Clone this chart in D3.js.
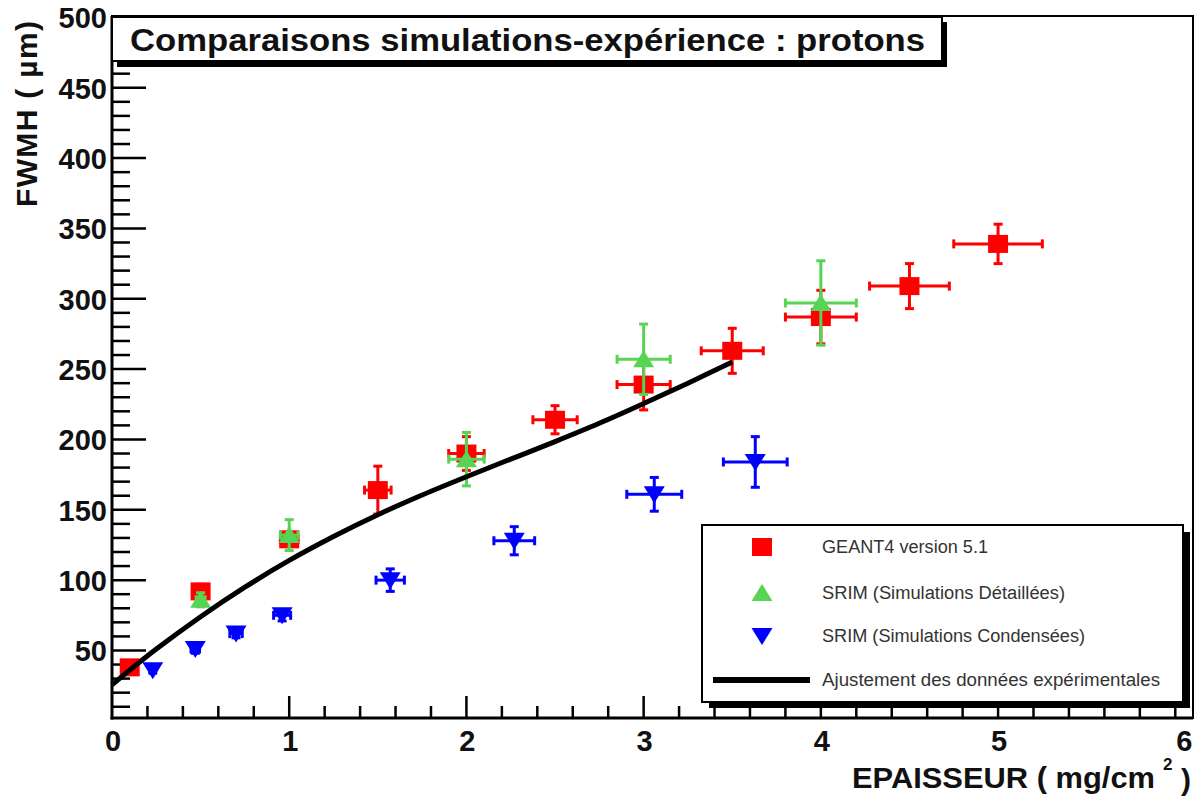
<!DOCTYPE html>
<html><head><meta charset="utf-8">
<script src="https://cdn.jsdelivr.net/npm/d3@7"></script>
<style>body{margin:0;background:#fff}</style>
</head><body><svg id="c" width="1199" height="798"></svg>
<script>
// ---- data ----
const geantX  = [0.1, 0.5, 1.0, 1.5, 2.0, 2.5, 3.0, 3.5, 4.0, 4.5, 5.0];
const geantY  = [38, 92, 129, 164, 190, 214, 239, 263, 287, 309, 339];
const geantEX = [0.005, 0.025, 0.05, 0.075, 0.1, 0.125, 0.15, 0.175, 0.2, 0.225, 0.25];
const geantEY = [3, 5, 5, 17, 12, 10, 18, 16, 19, 16, 14];

const detX  = [0.5, 1.0, 2.0, 3.0, 4.0];
const detY  = [86, 132, 186, 257, 297];
const detEX = [0.025, 0.05, 0.1, 0.15, 0.2];
const detEY = [5, 11, 19, 25, 30];

const condX  = [0.23, 0.47, 0.7, 0.96, 1.57, 2.27, 3.06, 3.63];
const condY  = [36, 51, 62, 75, 100, 128, 161, 184];
const condEX = [0.012, 0.024, 0.035, 0.048, 0.08, 0.115, 0.155, 0.18];
const condEY = [2, 3, 3, 4, 8, 10, 12, 18];

const fitX = [0, 0.1, 0.25, 0.5, 0.75, 1.0, 1.25, 1.5, 1.75, 2.0, 2.25, 2.5, 2.75, 3.0, 3.25, 3.5];
const fitY = [25.5, 36, 51, 74, 95, 114, 131, 146.5, 160.5, 173.5, 186, 198.5, 211.5, 225.5, 240, 255];

const xTickLabels = ["0", "1", "2", "3", "4", "5", "6"];
const yTickLabels = ["50", "100", "150", "200", "250", "300", "350", "400", "450", "500"];

const legendLabels = ["GEANT4 version 5.1", "SRIM (Simulations Détaillées)",
                      "SRIM (Simulations Condensées)", "Ajustement  des données expérimentales"];
const titleText = "Comparaisons simulations-expérience : protons";

// ---- layout ----
const svg = d3.select("#c");
const L = 112, R = 1193, T = 16, B = 718;
const x = d3.scaleLinear().domain([0, 6.1]).range([L, R]);
const y = d3.scaleLinear().domain([2, 501]).range([B, T]);
const RED = "#ff0000", GREEN = "#57d453", BLUE = "#0000ff";
const FONT = "'Liberation Sans', Arial, Helvetica, sans-serif";

// frame
svg.append("rect").attr("x", L).attr("y", T).attr("width", R - L).attr("height", B - T)
  .attr("fill", "none").attr("stroke", "#000").attr("stroke-width", 2);
svg.append("line").attr("x1", L).attr("x2", L).attr("y1", T).attr("y2", B + 1.5)
  .attr("stroke", "#000").attr("stroke-width", 3);
svg.append("line").attr("x1", L - 1.5).attr("x2", R).attr("y1", B).attr("y2", B)
  .attr("stroke", "#000").attr("stroke-width", 3);

// y ticks (inward)
const yMinor = d3.range(10, 501, 10);
svg.append("g").selectAll("line").data(yMinor).join("line")
  .attr("x1", L).attr("x2", d => L + (d % 50 === 0 ? 34 : 18))
  .attr("y1", d => y(d)).attr("y2", d => y(d))
  .attr("stroke", "#000").attr("stroke-width", 2.5);
svg.append("g").selectAll("text").data(yTickLabels).join("text")
  .attr("x", 107).attr("y", d => y(+d) + 11)
  .attr("text-anchor", "end").attr("font-family", FONT).attr("font-weight", "bold")
  .attr("font-size", 29).attr("fill", "#111").text(d => d);

// x ticks (inward)
const xMinor = d3.range(0, 31).map(i => i * 0.2).filter(v => v > 0.01);
svg.append("g").selectAll("line").data(xMinor).join("line")
  .attr("x1", d => x(d)).attr("x2", d => x(d))
  .attr("y1", B).attr("y2", d => B - (Math.abs(d - Math.round(d)) < 1e-6 ? 22 : 12))
  .attr("stroke", "#000").attr("stroke-width", 2.5);
svg.append("g").selectAll("text").data(xTickLabels).join("text")
  .attr("x", (d, i) => x(+d) + (i === xTickLabels.length - 1 ? 9 : 1)).attr("y", 751)
  .attr("text-anchor", "middle").attr("font-family", FONT).attr("font-weight", "bold")
  .attr("font-size", 29).attr("fill", "#111").text(d => d);

// axis titles
svg.append("text").attr("transform", "translate(37,207) rotate(-90)")
  .attr("font-family", FONT).attr("font-weight", "bold").attr("font-size", 30)
  .attr("fill", "#111").attr("textLength", 186).attr("lengthAdjust", "spacing")
  .text("FWMH ( µm)");
const xt = svg.append("g").attr("font-family", FONT).attr("font-weight", "bold").attr("fill", "#111");
xt.append("text").attr("x", 852).attr("y", 788).attr("font-size", 30)
  .attr("textLength", 303).attr("lengthAdjust", "spacingAndGlyphs").text("EPAISSEUR ( mg/cm");
xt.append("text").attr("x", 1163).attr("y", 770).attr("font-size", 17).text("2");
xt.append("text").attr("x", 1181).attr("y", 790).attr("font-size", 30).text(")");

// title box with shadow
svg.append("rect").attr("x", L + 5).attr("y", 22).attr("width", 942 - L).attr("height", 45).attr("fill", "#000");
svg.append("rect").attr("x", L).attr("y", 17).attr("width", 942 - L).attr("height", 44)
  .attr("fill", "#fff").attr("stroke", "#000").attr("stroke-width", 2);
svg.append("text").attr("x", 130).attr("y", 51).attr("font-family", FONT).attr("font-weight", "bold")
  .attr("font-size", 32).attr("fill", "#111").attr("textLength", 795).attr("lengthAdjust", "spacingAndGlyphs")
  .text(titleText);

// error bars helper
function errorBars(xs, ys, exs, eys, color) {
  const g = svg.append("g").attr("stroke", color).attr("stroke-width", 3).attr("fill", "none");
  xs.forEach((xv, i) => {
    const cx = x(xv), cy = y(ys[i]);
    const x0 = x(xv - exs[i]), x1 = x(xv + exs[i]);
    const y0 = y(ys[i] - eys[i]), y1 = y(ys[i] + eys[i]);
    g.append("line").attr("x1", x0).attr("x2", x1).attr("y1", cy).attr("y2", cy);
    g.append("line").attr("x1", cx).attr("x2", cx).attr("y1", y0).attr("y2", y1);
    g.append("line").attr("x1", x0).attr("x2", x0).attr("y1", cy - 4.5).attr("y2", cy + 4.5);
    g.append("line").attr("x1", x1).attr("x2", x1).attr("y1", cy - 4.5).attr("y2", cy + 4.5);
    g.append("line").attr("x1", cx - 4.5).attr("x2", cx + 4.5).attr("y1", y0).attr("y2", y0);
    g.append("line").attr("x1", cx - 4.5).attr("x2", cx + 4.5).attr("y1", y1).attr("y2", y1);
  });
}
const sq = (cx, cy) => `M${cx - 10},${cy - 9}h20v18h-20z`;
const up = (cx, cy) => `M${cx},${cy - 9}L${cx + 10.5},${cy + 8}L${cx - 10.5},${cy + 8}Z`;
const dn = (cx, cy) => `M${cx - 10.5},${cy - 8}L${cx + 10.5},${cy - 8}L${cx},${cy + 9}Z`;

// GEANT4
errorBars(geantX, geantY, geantEX, geantEY, RED);
svg.append("g").selectAll("path").data(geantX).join("path")
  .attr("d", (d, i) => sq(x(d), y(geantY[i]))).attr("fill", RED);
// SRIM detailed
errorBars(detX, detY, detEX, detEY, GREEN);
svg.append("g").selectAll("path").data(detX).join("path")
  .attr("d", (d, i) => up(x(d), y(detY[i]))).attr("fill", GREEN);
// SRIM condensed
errorBars(condX, condY, condEX, condEY, BLUE);
svg.append("g").selectAll("path").data(condX).join("path")
  .attr("d", (d, i) => dn(x(d), y(condY[i]))).attr("fill", BLUE);

// fit curve
const line = d3.line().x(d => x(d[0])).y(d => y(d[1])).curve(d3.curveCatmullRom);
svg.append("path").datum(fitX.map((v, i) => [v, fitY[i]])).attr("d", line)
  .attr("fill", "none").attr("stroke", "#000").attr("stroke-width", 5);

// legend
svg.append("rect").attr("x", 709).attr("y", 532).attr("width", 481).attr("height", 176).attr("fill", "#000");
svg.append("rect").attr("x", 702).attr("y", 525).attr("width", 481).attr("height", 177)
  .attr("fill", "#fff").attr("stroke", "#000").attr("stroke-width", 2);
const legY = [547, 593, 636, 680];
const lg = svg.append("g");
lg.append("path").attr("d", sq(762, legY[0])).attr("fill", RED);
lg.append("path").attr("d", up(762, legY[1])).attr("fill", GREEN);
lg.append("path").attr("d", dn(762, legY[2])).attr("fill", BLUE);
lg.append("line").attr("x1", 713).attr("x2", 810).attr("y1", legY[3]).attr("y2", legY[3])
  .attr("stroke", "#000").attr("stroke-width", 6);
const legW = [166, 243, 263, 338];
lg.selectAll("text").data(legendLabels).join("text")
  .attr("x", 822).attr("y", (d, i) => legY[i] + 6)
  .attr("font-family", FONT).attr("font-size", 18).attr("fill", "#333")
  .attr("textLength", (d, i) => legW[i]).attr("lengthAdjust", "spacingAndGlyphs")
  .text(d => d);
</script></body></html>
